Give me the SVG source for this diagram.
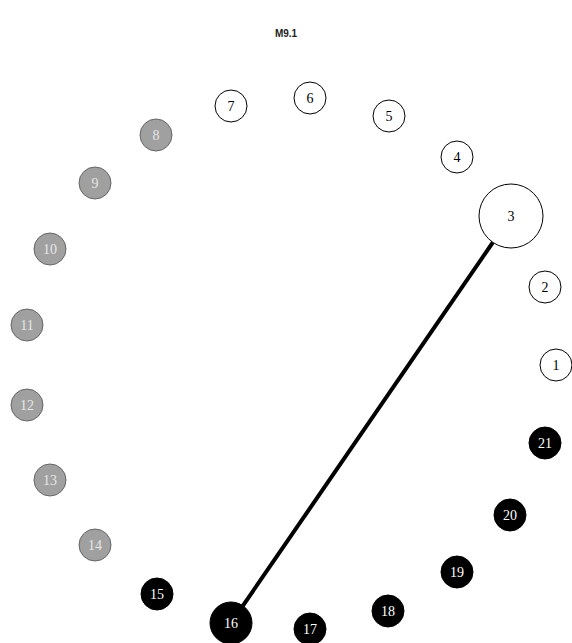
<svg xmlns="http://www.w3.org/2000/svg" width="572" height="643" viewBox="0 0 572 643">
<style>
.n circle{stroke:#000;stroke-width:1}
.w circle{fill:#fff}
.g circle{fill:#a0a0a0;stroke:#666}
.b circle{fill:#000}
.n text{font-family:"Liberation Serif",serif;font-size:14px;text-anchor:middle;dominant-baseline:central}
.w text{fill:#000}
.g text{fill:#e6e6e6}
.b text{fill:#fff}
.t{font-family:"Liberation Sans",sans-serif;font-size:10px;font-weight:bold;text-anchor:middle;fill:#222}
</style>
<rect width="572" height="643" fill="#fff"/>
<text class="t" x="286" y="37">M9.1</text>
<g id="edges"><line x1="511" y1="216" x2="231" y2="623" stroke="#000" stroke-width="4"/></g>
<g id="n1" class="n w"><circle cx="556" cy="365" r="16"/><text x="556" y="365">1</text></g>
<g id="n2" class="n w"><circle cx="545" cy="287" r="16"/><text x="545" y="287">2</text></g>
<g id="n3" class="n w"><circle cx="511" cy="216" r="32"/><text x="511" y="216">3</text></g>
<g id="n4" class="n w"><circle cx="457" cy="157" r="16"/><text x="457" y="157">4</text></g>
<g id="n5" class="n w"><circle cx="389" cy="116" r="16"/><text x="389" y="116">5</text></g>
<g id="n6" class="n w"><circle cx="310" cy="98" r="16"/><text x="310" y="98">6</text></g>
<g id="n7" class="n w"><circle cx="231" cy="106" r="16"/><text x="231" y="106">7</text></g>
<g id="n8" class="n g"><circle cx="156" cy="135" r="16"/><text x="156" y="135">8</text></g>
<g id="n9" class="n g"><circle cx="95" cy="183" r="16"/><text x="95" y="183">9</text></g>
<g id="n10" class="n g"><circle cx="50" cy="249" r="16"/><text x="50" y="249">10</text></g>
<g id="n11" class="n g"><circle cx="27" cy="325" r="16"/><text x="27" y="325">11</text></g>
<g id="n12" class="n g"><circle cx="27" cy="405" r="16"/><text x="27" y="405">12</text></g>
<g id="n13" class="n g"><circle cx="50" cy="480" r="16"/><text x="50" y="480">13</text></g>
<g id="n14" class="n g"><circle cx="95" cy="545" r="16"/><text x="95" y="545">14</text></g>
<g id="n15" class="n b"><circle cx="157" cy="594" r="16"/><text x="157" y="594">15</text></g>
<g id="n16" class="n b"><circle cx="231" cy="623" r="21"/><text x="231" y="623">16</text></g>
<g id="n17" class="n b"><circle cx="310" cy="629" r="16"/><text x="310" y="629">17</text></g>
<g id="n18" class="n b"><circle cx="388" cy="611" r="16"/><text x="388" y="611">18</text></g>
<g id="n19" class="n b"><circle cx="457" cy="572" r="16"/><text x="457" y="572">19</text></g>
<g id="n20" class="n b"><circle cx="510" cy="515" r="16"/><text x="510" y="515">20</text></g>
<g id="n21" class="n b"><circle cx="545" cy="443" r="16"/><text x="545" y="443">21</text></g>
</svg>
